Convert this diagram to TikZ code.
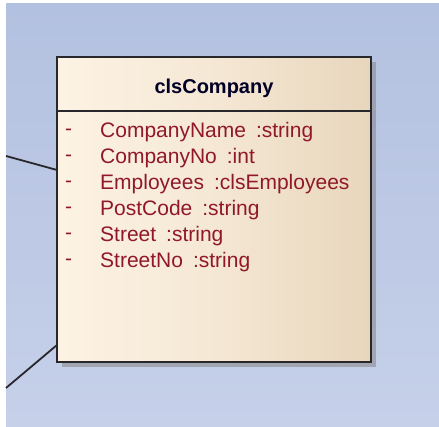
\documentclass[tikz,border=0pt]{standalone}
\usepackage{fontspec}
\setmainfont{Liberation Sans}
\usetikzlibrary{shadows}

\definecolor{diagramTop}{RGB}{179,193,224}
\definecolor{diagramBottom}{RGB}{198,208,233}
\definecolor{classLeft}{RGB}{253,243,228}
\definecolor{classRight}{RGB}{232,214,188}
\definecolor{attrRed}{RGB}{145,24,40}
\definecolor{edgeGray}{RGB}{40,40,44}

\tikzset{
  classbox/.style={draw=edgeGray, line width=2pt, rectangle,
    minimum width=314pt, minimum height=305pt,
    left color=classLeft, right color=classRight, middle color=classLeft!60!classRight,
    drop shadow={shadow xshift=5pt, shadow yshift=-5pt, fill=black!45, opacity=.6}},
  attrtext/.style={text=attrRed, anchor=west, inner sep=0pt, font=\fontsize{21}{25}\selectfont},
  assoc/.style={draw=edgeGray, line width=1.8pt}
}

\begin{document}
\begin{tikzpicture}[x=1pt,y=1pt]
    \useasboundingbox (0,0) rectangle (439,427);
    % Diagrammhintergrund
    \fill[white] (0,0) rectangle (439,427);
    \shade[top color=diagramTop, bottom color=diagramBottom] (6,0) rectangle (439,423);

    % Assoziationen von links
    \coordinate (assocA) at (6,271);
    \coordinate (assocB) at (6,39);
    \coordinate (endA) at (57,257);
    \coordinate (endB) at (57,82);
    \draw[assoc] (assocA) -- (endA);
    \draw[assoc] (assocB) -- (endB);

    % Klasse
    \node[classbox] (company) at (214,217.5) {};
    \draw[edgeGray, line width=2pt] (company.west |- 0,316) -- (company.east |- 0,316);
    \node[font=\bfseries\fontsize{20}{24}\selectfont, text=black!85!blue] (title) at (214,339) {clsCompany};

    % Attribute
    \foreach \name/\type [count=\i] in {CompanyName/string, CompanyNo/int,
        Employees/clsEmployees, PostCode/string, Street/string, StreetNo/string} {
        \pgfmathsetmacro{\rowy}{427 - 132 - 26*(\i-1)}
        \node[attrtext] (vis\i) at (65,\rowy) {-};
        \node[attrtext] (attr\i) at (100,\rowy) {\name\hspace{10pt}:\type};
    }
\end{tikzpicture}
\end{document}
